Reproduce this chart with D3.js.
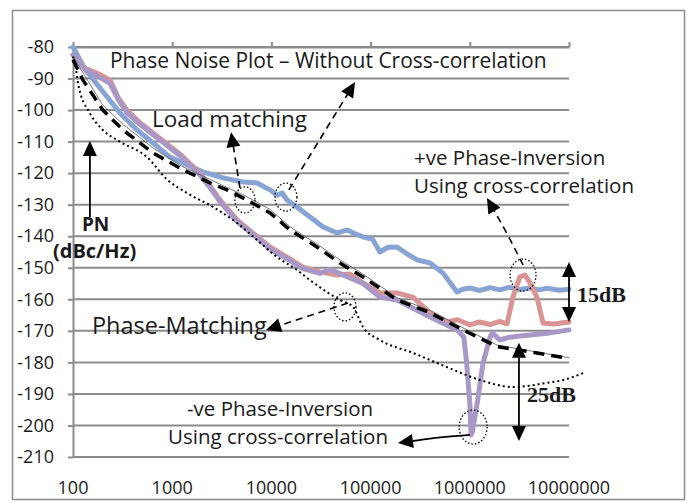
<!DOCTYPE html>
<html>
<head>
<meta charset="utf-8">
<script src="https://cdn.jsdelivr.net/npm/d3@7/dist/d3.min.js"></script>
<style>
  body { margin: 0; background: #fff; }
  text { font-family: 'Open Sans', sans-serif; fill: #1a1a1a; }
</style>
</head>
<body>
<div class="canvas"></div>
<script>
// tick values
const xTicks = [100, 1000, 10000, 100000, 1000000, 10000000];
const yTicks = [-80, -90, -100, -110, -120, -130, -140, -150, -160, -170, -180, -190, -200, -210];

// without cross-correlation (blue)
const freqBlue = [100, 132, 187, 297, 442, 640, 950, 1280, 2040, 3250, 5180, 7160, 9680, 11400, 12800, 14360, 18100, 24500, 33000, 45800, 57800, 70000, 83800, 105000, 124000, 150000, 185000, 230000, 294000, 398000, 537000, 743000, 850000, 1000000, 1250000, 1600000, 2000000, 2500000, 3200000, 4000000, 5000000, 6000000, 8000000, 10000000];
const pnBlue = [-80, -87, -93, -100.9, -106.3, -110.4, -114.9, -116.8, -119.6, -121.5, -122.8, -123.1, -125.3, -127, -126.3, -128.5, -130.7, -133.9, -137, -139, -138, -139.2, -140.2, -141, -145, -143.5, -143.4, -145.5, -147.5, -148.5, -151.7, -157.7, -156.8, -156.4, -157.2, -156.3, -157, -156.2, -156.9, -156.4, -157, -156.5, -157.1, -156.8];

// +ve phase inversion (red)
const freqRed = [100, 132, 180, 236, 284, 350, 473, 754, 1200, 1900, 2400, 3030, 4500, 6530, 9680, 14360, 20800, 30900, 45900, 62000, 83800, 124000, 185000, 267000, 398000, 589000, 750000, 1000000, 1250000, 1600000, 2000000, 2370000, 2720000, 3200000, 3600000, 4040000, 4750000, 5470000, 7000000, 10000000];
const pnRed = [-82.5, -86.7, -88.5, -90.5, -95.9, -100, -104, -109, -114, -120, -124, -128.5, -134.8, -139, -143.4, -146.6, -149.8, -151.3, -152.3, -152, -154.8, -158, -158, -159.3, -164.3, -167.2, -166.5, -168.1, -167.2, -168, -167, -167.8, -159.3, -152.9, -152.3, -154.8, -159.3, -167.5, -167.8, -167.2];

// -ve phase inversion (purple)
const freqPurple = [100, 132, 236, 284, 350, 473, 754, 1200, 1900, 2400, 3030, 4500, 6530, 9680, 14360, 20800, 30900, 39000, 83800, 124000, 185000, 398000, 743000, 870000, 930000, 1000000, 1030000, 1060000, 1200000, 1360000, 1600000, 1700000, 2000000, 2540000, 3200000, 4040000, 6000000, 10000000];
const pnPurple = [-82.5, -87, -91.5, -96.5, -100.8, -104.5, -109.5, -114.5, -120.5, -124.5, -129, -135.3, -139.5, -144, -147.2, -150.3, -151.8, -150.5, -155, -159.3, -160.2, -165.6, -169.7, -172, -180.2, -192.9, -203, -202, -192, -180.2, -172, -170.7, -172.9, -172, -171.6, -171.3, -170.8, -169.7];

// phase matching model (dashed)
const freqDash = [100, 126, 200, 319, 640, 1200, 2400, 3560, 5670, 9680, 15400, 28800, 49000, 83800, 185000, 398000, 850000, 1880000, 4750000, 9300000, 10000000];
const pnDash = [-84, -90.5, -100, -106.3, -113.6, -118.4, -123.1, -125.3, -128.5, -132.6, -138, -143.4, -148.5, -152.9, -160.2, -164.3, -169.7, -175, -177, -178.6, -178.8];

// thin reference line
const freqThin = [100, 200, 319, 640, 1200, 2400, 5670, 9680, 15400, 28800, 49000, 83800, 185000, 398000, 850000, 1880000, 10000000];
const pnThin = [-83, -98.5, -104.5, -112, -117.5, -122, -127.5, -131.5, -137, -142.5, -147.5, -152, -159.5, -163.5, -169, -174.5, -178.5];

// dotted
const freqDot = [100, 106, 113, 148, 200, 297, 557, 887, 1410, 2575, 4500, 7160, 11400, 18100, 24500, 36300, 49000, 66500, 83800, 124000, 267000, 589000, 1270000, 2720000, 5990000, 8700000, 13900000];
const pnDot = [-83, -86, -92, -101, -106.3, -110, -114.9, -122, -126.3, -130.7, -135.8, -141.2, -146.6, -150.7, -153.9, -157.7, -160.2, -162.4, -168.8, -172.9, -177, -181.5, -185.6, -187.8, -186.5, -185.6, -183.4];

const width = 697, height = 503;

const svg = d3.select('.canvas')
    .append('svg')
    .attr('width', width)
    .attr('height', height);

svg.append('rect')
    .attr('x', 12.5).attr('y', 10.5)
    .attr('width', 672).attr('height', 489)
    .attr('fill', 'none')
    .attr('stroke', '#8c8c8c')
    .attr('stroke-width', 1.5);

const x = d3.scaleLog().domain([100, 1e7]).range([73, 569]);
const y = d3.scaleLinear().domain([-210, -80]).range([457, 47]);

// gridlines
svg.append('g')
    .selectAll('line')
    .data(yTicks)
    .join('line')
    .attr('x1', x(100)).attr('x2', x(1e7))
    .attr('y1', d => y(d)).attr('y2', d => y(d))
    .attr('stroke', '#8c8c8c')
    .attr('stroke-width', 2);

const yAxis = d3.axisLeft(y)
    .tickValues(yTicks)
    .tickSize(5)
    .tickSizeOuter(0)
    .tickPadding(14)
    .tickFormat(d => String(d));   // plain hyphen like the original

const yAxisGroup = svg.append('g')
    .attr('transform', `translate(${x(100)}, 0)`)
    .call(yAxis);

// x axis sits at the top (-80), labels drawn at the bottom
const xAxis = d3.axisTop(x)
    .tickValues(xTicks)
    .tickSize(5)
    .tickSizeOuter(0)
    .tickFormat('');

const xAxisGroup = svg.append('g')
    .attr('transform', `translate(0, ${y(-80)})`)
    .call(xAxis);

[yAxisGroup, xAxisGroup].forEach(g => {
    g.select('.domain').attr('stroke', '#8c8c8c').attr('stroke-width', 2);
    g.selectAll('.tick line').attr('stroke', '#8c8c8c').attr('stroke-width', 2);
});
yAxisGroup.selectAll('text')
    .attr('font-size', 18)
    .attr('font-family', "'Open Sans', sans-serif")
    .attr('fill', '#1a1a1a');

svg.append('g')
    .selectAll('text')
    .data(xTicks)
    .join('text')
    .attr('x', d => x(d))
    .attr('y', 494)
    .attr('text-anchor', 'middle')
    .attr('font-size', 18)
    .text(d => d);

// series
const line = d3.line()
    .x(d => x(d[0]))
    .y(d => y(d[1]));

const series = [
    {f: freqBlue, v: pnBlue, color: '#88a4d4', w: 5},
    {f: freqRed, v: pnRed, color: '#d99593', w: 5},
    {f: freqPurple, v: pnPurple, color: '#a898c8', w: 5}
];

series.forEach(s => {
    svg.append('path')
        .datum(d3.zip(s.f, s.v))
        .attr('fill', 'none')
        .attr('stroke', s.color)
        .attr('stroke-width', s.w)
        .attr('stroke-linejoin', 'round')
        .attr('stroke-linecap', 'round')
        .attr('d', line);
});

svg.append('path')
    .datum(d3.zip(freqThin, pnThin))
    .attr('fill', 'none')
    .attr('stroke', '#555')
    .attr('stroke-width', 0.8)
    .attr('d', line);

svg.append('path')
    .datum(d3.zip(freqDash, pnDash))
    .attr('fill', 'none')
    .attr('stroke', '#000')
    .attr('stroke-width', 3.5)
    .attr('stroke-dasharray', '11,7')
    .attr('d', line);

svg.append('path')
    .datum(d3.zip(freqDot, pnDot))
    .attr('fill', 'none')
    .attr('stroke', '#000')
    .attr('stroke-width', 2)
    .attr('stroke-dasharray', '2,3')
    .attr('d', line.curve(d3.curveMonotoneX));
line.curve(d3.curveLinear);

// annotations, positioned in data space [freq, dB]
const rings = [[5420, -128.5, 10, 13], [14000, -127.6, 11, 14], [3440000, -152.3, 13, 16], [55200, -162.4, 11, 14], [1080000, -200.5, 14, 17]];

svg.append('g')
    .selectAll('ellipse')
    .data(rings)
    .join('ellipse')
    .attr('cx', d => x(d[0])).attr('cy', d => y(d[1]))
    .attr('rx', d => d[2]).attr('ry', d => d[3])
    .attr('fill', 'none')
    .attr('stroke', '#000')
    .attr('stroke-width', 1.3)
    .attr('stroke-dasharray', '1.5,2');

const arrow = (pts, dash, heads) => {
    const p = pts.map(d => [x(d[0]), y(d[1])]);
    const g = svg.append('g');
    const tipHead = (a, b) => {
        const ang = Math.atan2(b[1] - a[1], b[0] - a[0]);
        const L = 15, W = 7;
        const bx = b[0] - L * Math.cos(ang), by = b[1] - L * Math.sin(ang);
        g.append('path')
            .attr('d', `M${b[0]},${b[1]}L${bx + W * Math.sin(ang)},${by - W * Math.cos(ang)}L${bx - W * Math.sin(ang)},${by + W * Math.cos(ang)}Z`)
            .attr('fill', '#000');
        return [bx, by];
    };
    const n = p.length;
    const end = tipHead(p[n - 2], p[n - 1]);
    const linePts = p.slice(0, n - 1).concat([end]);
    if (heads === 2) {
        linePts[0] = tipHead(p[1], p[0]);
    }
    g.append('path')
        .attr('d', d3.line().curve(d3.curveBasis)(linePts))
        .attr('fill', 'none')
        .attr('stroke', '#000')
        .attr('stroke-width', dash ? 1.6 : 1.8)
        .attr('stroke-dasharray', dash ? '7,5' : null);
};

arrow([[4820, -124.7], [3920, -107]], true, 1);
arrow([[15000, -125.3], [69700, -91.1]], true, 1);
arrow([[3440000, -149.1], [2370000, -139], [1490000, -127.9]], true, 1);
arrow([[59200, -161.2], [8830, -169.7]], true, 1);
arrow([[1000000, -203], [502000, -203.7], [189000, -205.6]], false, 1);
arrow([[148, -133.9], [148, -109.8]], false, 1);
arrow([[1e7, -167.2], [1e7, -148.2]], false, 2);
arrow([[3130000, -204.9], [3130000, -173.8]], false, 2);

const labels = [
    {t: 'Phase Noise Plot \u2013 Without Cross-correlation', f: 236, v: -86.7, size: 21},
    {t: 'Load matching', f: 625, v: -105.4, size: 22.5},
    {t: '+ve Phase-Inversion', f: 274000, v: -117.4, size: 20.5},
    {t: 'Using cross-correlation', f: 274000, v: -126.3, size: 20.5},
    {t: 'PN', f: 123, v: -138.3, size: 19, bold: true},
    {t: '(dBc/Hz)', f: 62.8, v: -146.9, size: 20, bold: true},
    {t: 'Phase-Matching', f: 155, v: -171, size: 23.5},
    {t: '-ve Phase-Inversion', f: 1410, v: -197, size: 20.5},
    {t: 'Using cross-correlation', f: 908, v: -205.9, size: 20.5},
    {t: '15dB', f: 12050000, v: -160.9, size: 22, serif: true},
    {t: '25dB', f: 3780000, v: -192.6, size: 22, serif: true}
];

svg.append('g')
    .selectAll('text')
    .data(labels)
    .join('text')
    .attr('x', d => x(d.f))
    .attr('y', d => y(d.v))
    .attr('font-size', d => d.size)
    .attr('font-weight', d => (d.bold || d.serif) ? 'bold' : null)
    .style('font-family', d => d.serif ? "'Liberation Serif', serif" : null)
    .text(d => d.t);
</script>
</body>
</html>
